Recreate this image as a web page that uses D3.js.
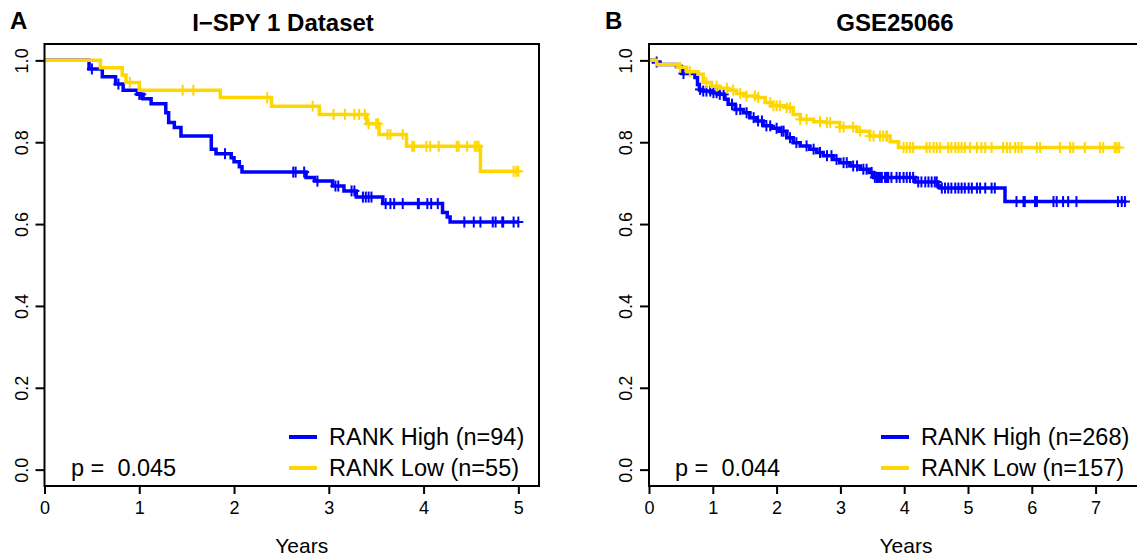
<!DOCTYPE html>
<html>
<head>
<meta charset="utf-8">
<script src="https://cdn.jsdelivr.net/npm/d3@7"></script>
<style>
  body { margin: 0; background: #fff; }
  svg { display: block; font-family: "Liberation Sans", Arial, sans-serif; }
</style>
</head>
<body>
<div id="chart"></div>
<script>
// Kaplan-Meier data (time in years, survival after each event)
var aHighTimes = [0.47, 0.61, 0.75, 0.83, 0.98, 1.04, 1.125, 1.28, 1.31, 1.37, 1.44, 1.76, 1.81, 1.97, 2.0, 2.056, 2.084, 2.76, 2.85, 3.04, 3.16, 3.29, 3.57, 4.20, 4.25, 4.28]
var aHighSurv  = [0.979, 0.960, 0.942, 0.927, 0.917, 0.906, 0.894, 0.872, 0.848, 0.836, 0.815, 0.783, 0.772, 0.762, 0.752, 0.740, 0.727, 0.714, 0.705, 0.693, 0.681, 0.666, 0.650, 0.628, 0.617, 0.605]
var aHighCens  = [0.50, 0.78, 1.0, 1.02, 1.905, 2.625, 2.65, 2.74, 2.88, 3.07, 3.10, 3.24, 3.27, 3.36, 3.39, 3.42, 3.45, 3.60, 3.65, 3.69, 3.78, 3.94, 3.95, 4.04, 4.08, 4.15, 4.43, 4.53, 4.60, 4.73, 4.76, 4.83, 4.84, 4.95, 5.0]
var aHighEnd = 5.0

var aLowTimes = [0.59, 0.82, 0.86, 1.0, 1.855, 2.396, 2.90, 3.40, 3.53, 3.82, 4.60]
var aLowSurv  = [0.982, 0.964, 0.946, 0.927, 0.909, 0.888, 0.868, 0.845, 0.819, 0.790, 0.729]
var aLowCens  = [0.90, 1.458, 1.571, 2.35, 2.83, 3.05, 3.17, 3.27, 3.32, 3.38, 3.42, 3.50, 3.52, 3.62, 3.65, 3.78, 3.88, 3.90, 4.03, 4.07, 4.16, 4.35, 4.37, 4.46, 4.54, 4.56, 4.58, 4.95, 4.98, 5.0]
var aLowEnd = 5.0

var bHighTimes = [0.07, 0.17, 0.43, 0.51, 0.72, 0.76, 0.79, 0.83, 0.98, 1.09, 1.19, 1.24, 1.35, 1.48, 1.58, 1.69, 1.79, 1.92, 2.05, 2.16, 2.26, 2.37, 2.52, 2.63, 2.73, 2.89, 2.99, 3.15, 3.31, 3.46, 3.52, 4.17, 4.53, 4.56, 5.58]
var bHighSurv  = [0.996, 0.990, 0.985, 0.968, 0.958, 0.941, 0.929, 0.925, 0.921, 0.917, 0.905, 0.893, 0.880, 0.872, 0.860, 0.852, 0.840, 0.834, 0.827, 0.811, 0.799, 0.791, 0.783, 0.775, 0.767, 0.758, 0.750, 0.742, 0.734, 0.726, 0.714, 0.703, 0.693, 0.688, 0.655]
var bHighCens  = [0.12, 0.54, 0.80, 0.85, 0.90, 0.96, 1.01, 1.06, 1.11, 1.17, 1.30, 1.37, 1.43, 1.53, 1.64, 1.71, 1.77, 1.84, 1.90, 2.00, 2.08, 2.11, 2.21, 2.31, 2.47, 2.58, 2.68, 2.79, 2.86, 2.94, 3.05, 3.10, 3.20, 3.26, 3.36, 3.41, 3.49, 3.54, 3.57, 3.59, 3.62, 3.65, 3.70, 3.73, 3.75, 3.80, 3.88, 3.93, 3.99, 4.04, 4.09, 4.14, 4.22, 4.27, 4.33, 4.38, 4.43, 4.48, 4.51, 4.59, 4.64, 4.69, 4.74, 4.80, 4.85, 4.90, 4.95, 5.01, 5.06, 5.14, 5.19, 5.27, 5.37, 5.42, 5.76, 5.87, 5.89, 6.05, 6.08, 6.34, 6.39, 6.49, 6.57, 6.70, 7.35, 7.41, 7.46]
var bHighEnd = 7.48

var bLowTimes = [0.12, 0.46, 0.59, 0.77, 0.85, 0.98, 1.11, 1.24, 1.37, 1.50, 1.69, 1.82, 1.92, 2.16, 2.26, 2.37, 2.58, 2.78, 2.99, 3.26, 3.46, 3.78, 3.91]
var bLowSurv  = [0.990, 0.983, 0.972, 0.966, 0.946, 0.937, 0.932, 0.927, 0.919, 0.913, 0.909, 0.897, 0.889, 0.884, 0.868, 0.856, 0.850, 0.848, 0.837, 0.827, 0.815, 0.801, 0.787]
var bLowCens  = [0.49, 0.64, 0.90, 1.06, 1.22, 1.32, 1.43, 1.53, 1.66, 1.71, 1.90, 1.95, 2.0, 2.05, 2.16, 2.21, 2.37, 2.47, 2.68, 2.79, 2.84, 2.99, 3.05, 3.20, 3.31, 3.46, 3.52, 3.62, 3.67, 3.72, 3.73, 3.99, 4.04, 4.09, 4.14, 4.35, 4.40, 4.46, 4.51, 4.56, 4.69, 4.74, 4.80, 4.85, 4.90, 4.95, 5.03, 5.14, 5.21, 5.27, 5.37, 5.55, 5.61, 5.66, 5.74, 5.79, 5.84, 6.08, 6.13, 6.44, 6.60, 6.65, 6.83, 7.07, 7.12, 7.30, 7.33, 7.37]
var bLowEnd = 7.38

var yTicks = [0, 0.2, 0.4, 0.6, 0.8, 1.0]
var aXTicks = [0, 1, 2, 3, 4, 5]
var bXTicks = [0, 1, 2, 3, 4, 5, 6, 7]

var blue = "#0000ff"
var gold = "#ffd700"

var svgWidth = 1137
var svgHeight = 556

var svg = d3.select("#chart")
  .append("svg")
  .attr("width", svgWidth)
  .attr("height", svgHeight)

// draw one KM panel
function drawPanel(opt) {
  var x = d3.scaleLinear().domain(opt.xDomain).range([opt.left, opt.right])
  var y = d3.scaleLinear().domain([-0.04, 1.04]).range([486, 44])

  var g = svg.append("g")

  // panel letter and title
  g.append("text")
    .attr("x", opt.letterX)
    .attr("y", 29)
    .style("font-size", "24px")
    .style("font-weight", "bold")
    .text(opt.letter)

  g.append("text")
    .attr("x", opt.titleX)
    .attr("y", 31)
    .attr("text-anchor", "middle")
    .style("font-size", "24px")
    .style("font-weight", "bold")
    .text(opt.title)

  // x axis
  var xAxis = g.append("g")
    .attr("transform", "translate(0,486)")
    .call(d3.axisBottom(x).tickValues(opt.xTicks).tickSize(8).tickPadding(7).tickFormat(d3.format("d")))
  xAxis.select(".domain").remove()
  xAxis.selectAll("line").attr("stroke", "#000").attr("stroke-width", 2)
  xAxis.selectAll("text").style("font-size", "18px").attr("fill", "#000").attr("font-family", null)

  // y axis
  var yAxis = g.append("g")
    .attr("transform", `translate(${opt.left},0)`)
    .call(d3.axisLeft(y).tickValues(yTicks).tickSize(9).tickFormat(d3.format(".1f")))
  yAxis.select(".domain").remove()
  yAxis.selectAll("line").attr("stroke", "#000").attr("stroke-width", 2)
  yAxis.selectAll("text")
    .attr("x", null).attr("dy", null)
    .attr("text-anchor", "middle")
    .attr("transform", "translate(-17,0) rotate(-90)")
    .style("font-size", "18px").attr("fill", "#000").attr("font-family", null)

  g.append("text")
    .attr("x", (opt.left + Math.min(opt.right, svgWidth)) / 2 + opt.yearsShift)
    .attr("y", 553)
    .attr("text-anchor", "middle")
    .style("font-size", "21px")
    .text("Years")

  // curves
  opt.series.forEach(function(s) {
    var pts = [[0, 1]]
    s.times.forEach(function(t, i) { pts.push([t, s.surv[i]]) })
    pts.push([s.end, s.surv[s.surv.length - 1]])

    var line = d3.line()
      .x(d => x(d[0]))
      .y(d => y(d[1]))
      .curve(d3.curveStepAfter)

    g.append("path")
      .datum(pts)
      .attr("fill", "none")
      .attr("stroke", s.color)
      .attr("stroke-width", 3.5)
      .attr("d", line)

    // censor marks as "+"
    var bis = d3.bisector(d => d[0]).right
    var marks = g.append("g")
      .attr("stroke", s.color)
      .attr("stroke-width", 2)
    s.cens.forEach(function(c) {
      var v = pts[bis(pts, c) - 1][1]
      var cx = x(c), cy = y(v)
      marks.append("line").attr("x1", cx).attr("x2", cx).attr("y1", cy - 5.5).attr("y2", cy + 5.5)
      marks.append("line").attr("x1", cx - 5).attr("x2", cx + 5).attr("y1", cy).attr("y2", cy)
    })
  })

  // frame
  g.append("rect")
    .attr("x", opt.left)
    .attr("y", 44)
    .attr("width", opt.right - opt.left)
    .attr("height", 442)
    .attr("fill", "none")
    .attr("stroke", "#000")
    .attr("stroke-width", 2)

  // p value
  g.append("text")
    .attr("x", opt.pX)
    .attr("y", 476)
    .style("font-size", "23.5px")
    .attr("xml:space", "preserve")
    .text(opt.pText)

  // legend
  opt.series.forEach(function(s, i) {
    var ly = 437 + i * 31
    g.append("line")
      .attr("x1", opt.legX).attr("x2", opt.legX + 28)
      .attr("y1", ly).attr("y2", ly)
      .attr("stroke", s.color)
      .attr("stroke-width", 4)
    g.append("text")
      .attr("x", opt.legX + 40)
      .attr("y", ly + 7.5)
      .style("font-size", "23.5px")
      .text(s.label)
  })
}

drawPanel({
  letter: "A", letterX: 10,
  title: "I\u2212SPY 1 Dataset", titleX: 283,
  left: 44.5, right: 539, xDomain: [0, 5.218],
  xTicks: aXTicks, yearsShift: 10,
  pX: 71, pText: "p =  0.045",
  legX: 289,
  series: [
    {label: "RANK High (n=94)", color: blue, times: aHighTimes, surv: aHighSurv, cens: aHighCens, end: aHighEnd},
    {label: "RANK Low (n=55)", color: gold, times: aLowTimes, surv: aLowSurv, cens: aLowCens, end: aLowEnd}
  ]
})

drawPanel({
  letter: "B", letterX: 605,
  title: "GSE25066", titleX: 895,
  left: 649, right: 1143, xDomain: [0, 7.743],
  xTicks: bXTicks, yearsShift: 13,
  pX: 675, pText: "p =  0.044",
  legX: 881,
  series: [
    {label: "RANK High (n=268)", color: blue, times: bHighTimes, surv: bHighSurv, cens: bHighCens, end: bHighEnd},
    {label: "RANK Low (n=157)", color: gold, times: bLowTimes, surv: bLowSurv, cens: bLowCens, end: bLowEnd}
  ]
})
</script>
</body>
</html>
